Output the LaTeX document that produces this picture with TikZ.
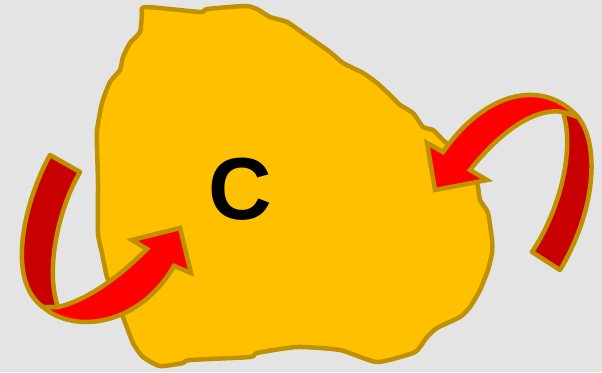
\documentclass[tikz,border=0pt]{standalone}
\usepackage{fontspec}
\setmainfont{Liberation Sans}
\definecolor{bgc}{RGB}{228,228,228}
\definecolor{blobfill}{RGB}{255,192,0}
\definecolor{goldline}{RGB}{191,144,0}
\definecolor{redfront}{RGB}{255,0,0}
\definecolor{redback}{RGB}{200,0,0}
\tikzset{
  blobshape/.style={fill=blobfill, draw=goldline, line width=4.5pt, line join=round},
  frontband/.style={fill=redfront, draw=goldline, line width=4.5pt, line join=miter, miter limit=4},
  backband/.style={fill=redback, draw=goldline, line width=4.5pt, line join=round},
  letter/.style={font=\fontsize{88}{88}\selectfont\bfseries, text=black, inner sep=0pt}
}
\begin{document}
\begin{tikzpicture}[x=1pt,y=-1pt]
\fill[bgc] (0,0) rectangle (602,372);
\useasboundingbox (0,0) rectangle (602,372);
% blob
\draw[blobshape] plot[smooth cycle, tension=0.35] coordinates {
(145,7) (200,12) (207,9) (245,6) (257,9) (270,17) (287,22) (303,33) (330,52) (343,63)
(363,73) (377,83) (390,95) (400,105) (413,113) (423,127) (433,130) (443,140) (452,148)
(465,165) (477,183) (480,200) (488,213) (492,240) (492,253) (488,270) (480,290) (470,307)
(460,317) (437,328) (427,337) (420,347) (413,353) (377,362) (340,350) (297,347) (257,353)
(250,357) (190,360) (183,363) (160,366) (143,357) (133,343) (123,317) (115,297) (107,277)
(102,253) (98,233) (98,183) (97,147) (97,130) (102,103) (110,82) (120,70) (123,57)
(130,43) (140,32) (142,15)};
\node[letter] (c) at (240,189) {C};
% left arrow
\coordinate (lo) at (43,307);
\coordinate (li) at (58,307);
\coordinate (ltop1) at (50,155);
\coordinate (ltop2) at (80,172);
\coordinate (lbarbA) at (191,273);
\coordinate (ltip) at (180,228);
\coordinate (lbarbB) at (132,240);
\coordinate (lnotchB) at (147,249);
\coordinate (lnotchA) at (174,266);
\draw[backband] (lo) .. controls (5,280) and (25,200) .. (ltop1) -- (ltop2)
  .. controls (58,210) and (45,270) .. (li) -- cycle;
\draw[frontband] (lo) .. controls (75,335) and (140,325) .. (lnotchA) -- (lbarbA) -- (ltip)
  -- (lbarbB) -- (lnotchB) .. controls (120,276) and (88,300) .. (li) -- cycle;
% right arrow
\coordinate (ro) at (578,117);
\coordinate (ri) at (563,112);
\coordinate (rbot1) at (560,270);
\coordinate (rbot2) at (532,252);
\coordinate (rnotchA) at (443,152);
\coordinate (rbarbA) at (427,143);
\coordinate (rtip) at (435,190);
\coordinate (rbarbB) at (487,180);
\coordinate (rnotchB) at (470,170);
\draw[backband] (ri) -- (ro) .. controls (600,145) and (596,210) .. (rbot1) -- (rbot2)
  .. controls (560,210) and (575,150) .. (ri) -- cycle;
\draw[frontband] (ro) .. controls (545,80) and (488,88) .. (rnotchA) -- (rbarbA) -- (rtip)
  -- (rbarbB) -- (rnotchB) .. controls (500,132) and (535,107) .. (ri) -- cycle;
\end{tikzpicture}
\end{document}
